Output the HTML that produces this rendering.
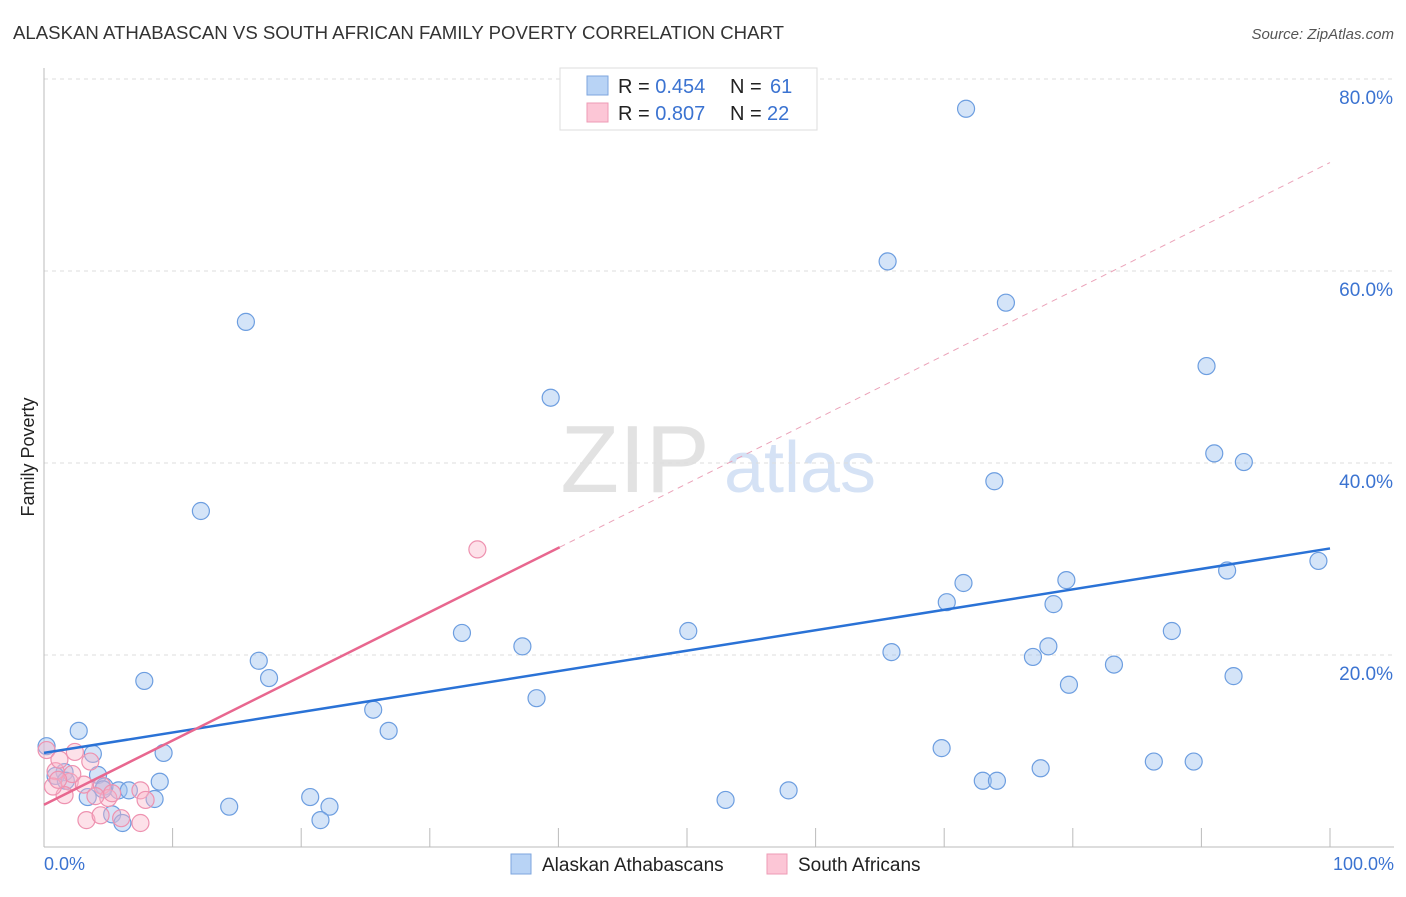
<!DOCTYPE html>
<html><head><meta charset="utf-8">
<style>
body{margin:0;background:#fff;font-family:"Liberation Sans",sans-serif;}
svg text{font-family:"Liberation Sans",sans-serif;}
</style></head>
<body>
<svg id="chart" width="1406" height="892" xmlns="http://www.w3.org/2000/svg">
<text x="13" y="39" font-size="18" fill="#333" textLength="771" lengthAdjust="spacingAndGlyphs">ALASKAN ATHABASCAN VS SOUTH AFRICAN FAMILY POVERTY CORRELATION CHART</text>
<text x="1394" y="39" font-size="15" fill="#555" font-style="italic" text-anchor="end">Source: ZipAtlas.com</text>
<text x="635" y="492" font-size="96" fill="#e2e2e2" text-anchor="middle" font-family="Liberation Serif">ZIP</text>
<text x="800" y="492" font-size="72" fill="#d5e2f5" text-anchor="middle">atlas</text>
<g id="grid"></g>
<line x1="44" y1="68" x2="44" y2="847" stroke="#bbb"/>
<line x1="44" y1="847" x2="1394" y2="847" stroke="#bbb"/>
<text transform="translate(34,457) rotate(-90)" font-size="18" fill="#222" text-anchor="middle">Family Poverty</text>
<text x="44" y="870" font-size="18" fill="#3b73d1">0.0%</text>
<text x="1394" y="870" font-size="18" fill="#3b73d1" text-anchor="end">100.0%</text>
<g id="points"></g>
<g id="lines"></g>
<g>
<rect x="560" y="68" width="257" height="62" fill="#fff" stroke="#ddd"/>
<rect x="587" y="76" width="21" height="19" fill="#b8d3f5" stroke="#7ea6de"/>
<rect x="587" y="103" width="21" height="19" fill="#fcc6d6" stroke="#ee9bb5"/>
<text x="618" y="93" font-size="20" fill="#222">R = <tspan fill="#3b73d1">0.454</tspan><tspan x="730">N = </tspan><tspan fill="#3b73d1" x="770">61</tspan></text>
<text x="618" y="120" font-size="20" fill="#222">R = <tspan fill="#3b73d1">0.807</tspan><tspan x="730">N = </tspan><tspan fill="#3b73d1" x="767">22</tspan></text>
</g>
<g>
<rect x="511" y="854" width="20" height="20" fill="#b8d3f5" stroke="#7ea6de"/>
<text x="542" y="871" font-size="19" fill="#222">Alaskan Athabascans</text></g>
<g>
<rect x="767" y="854" width="20" height="20" fill="#fcc6d6" stroke="#ee9bb5"/>
<text x="798" y="871" font-size="19" fill="#222">South Africans</text></g>
</svg>
<script>
const yTicks=[20,40,60,80];
const blueX=[71.7,65.6,74.8,15.7,39.4,90.4,91.0,93.3,73.9,12.2,71.5,79.5,70.2,78.5,92.0,99.1,32.5,50.1,87.7,37.2,78.1,65.9,76.9,16.7,83.2,17.5,7.8,79.7,92.5,38.3,25.6,2.7,26.8,69.8,0.2,9.3,3.8,4.2,1.6,73.0,74.1,77.5,86.3,89.4,9.0,5.8,6.6,4.7,3.4,8.6,20.7,57.9,53.0,22.2,14.4,5.3,6.1,21.5,0.9,1.7,4.6];
const blueY=[76.9,61.0,56.7,54.7,46.8,50.1,41.0,40.1,38.1,35.0,27.5,27.8,25.5,25.3,28.8,29.8,22.3,22.5,22.5,20.9,20.9,20.3,19.8,19.4,19.0,17.6,17.3,16.9,17.8,15.5,14.3,12.1,12.1,10.3,10.5,9.8,9.7,7.5,7.8,6.9,6.9,8.2,8.9,8.9,6.8,5.9,5.9,6.3,5.2,5.0,5.2,5.9,4.9,4.2,4.2,3.4,2.5,2.8,7.4,6.9,6.0];
const pinkX=[33.7,0.2,2.4,3.6,0.9,2.0,3.1,1.6,4.5,5.0,7.5,7.9,0.7,4.0,6.0,3.3,7.5,4.4,2.2,1.2,5.3,1.1];
const pinkY=[31.0,10.1,9.9,8.9,7.9,6.8,6.5,5.4,6.4,5.1,5.9,4.9,6.3,5.3,3.0,2.8,2.5,3.3,7.6,9.1,5.6,7.0];
const blueLine=[9.8,31.1];
const pinkLine=[4.4,71.3];
const pinkSolidEnd=40.1;
const NS="http://www.w3.org/2000/svg";
const sx=v=>44+v*12.86, sy=v=>847-v*9.6;
function mk(tag,attrs,parent){const e=document.createElementNS(NS,tag);for(const k in attrs)e.setAttribute(k,attrs[k]);parent.appendChild(e);return e;}
const grid=document.getElementById('grid');
yTicks.forEach(t=>{
 const l=mk('line',{x1:44,x2:1394,y1:sy(t),y2:sy(t),stroke:'#ddd','stroke-dasharray':'4,4'},grid);
 
 
 const tx=mk('text',{x:1393,y:sy(t)+25,'font-size':19,fill:'#3b73d1','text-anchor':'end'},grid);
 tx.textContent=t.toFixed(1)+'%';
 
 
});
for(let i=1;i<=10;i++){
 const l=mk('line',{x1:sx(i*10),x2:sx(i*10),y1:828,y2:847,stroke:'#bbb'},grid);
 
 
}
const pts=document.getElementById('points');
blueX.forEach((x,i)=>{
 const c=mk('circle',{cx:sx(x),cy:sy(blueY[i]),r:8.5,fill:'rgba(160,196,240,0.45)',stroke:'#6d9ee0','stroke-width':1.2},pts);
 
 
});
pinkX.forEach((x,i)=>{
 const c=mk('circle',{cx:sx(x),cy:sy(pinkY[i]),r:8.5,fill:'rgba(250,180,200,0.4)',stroke:'#ee92b0','stroke-width':1.2},pts);
 
 
});
const ln=document.getElementById('lines');
let l=mk('line',{x1:sx(0),y1:sy(blueLine[0]),x2:sx(100),y2:sy(blueLine[1]),stroke:'#2a72d6','stroke-width':2.5},ln);


const py=x=>pinkLine[0]+(pinkLine[1]-pinkLine[0])*x/100;
l=mk('line',{x1:sx(0),y1:sy(py(0)),x2:sx(pinkSolidEnd),y2:sy(py(pinkSolidEnd)),stroke:'#e8678f','stroke-width':2.5},ln);


l=mk('line',{x1:sx(pinkSolidEnd),y1:sy(py(pinkSolidEnd)),x2:sx(100),y2:sy(py(100)),stroke:'#eba3b9','stroke-width':1,'stroke-dasharray':'6,5'},ln);


</script>
</body></html>
